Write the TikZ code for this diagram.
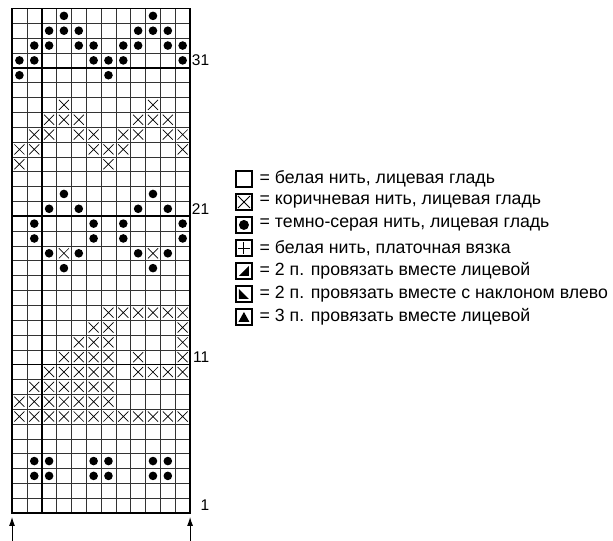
\documentclass[tikz,border=0pt]{standalone}
\usepackage{fontspec}
\setmainfont{Liberation Sans}
\usetikzlibrary{positioning,arrows.meta}

\tikzset{
  legbox/.style={draw, rectangle, line width=1.2pt, minimum size=16pt, inner sep=0pt},
  legtext/.style={anchor=west, inner sep=0pt, font=\fontsize{17.7}{20}\selectfont},
  rownum/.style={anchor=east, inner sep=0pt, font=\fontsize{15.5}{18}\selectfont},
}
\newcommand{\xcell}[2]{\draw[line width=0.7pt] (#2-0.84,#1-0.84) -- (#2-0.16,#1-0.16) (#2-0.84,#1-0.16) -- (#2-0.16,#1-0.84);}
\newcommand{\dcell}[2]{\fill (#2-0.5,#1-0.5) circle (0.29);}

\begin{document}
\begin{tikzpicture}[x=14.84pt, y=14.84pt, node distance=5.8pt and 7pt]
    \useasboundingbox (-0.809,-1.887) rectangle (40.50,34.57);

    % chart
    \foreach \i in {1,...,11} \draw[line width=0.5pt, black!80] (\i,0) -- (\i,34);
    \foreach \j in {1,...,33} \draw[line width=0.5pt, black!80] (0,\j) -- (12,\j);
    \draw[line width=1.8pt] (0,0) rectangle (12,34);
    \draw[line width=1.8pt] (2,0) -- (2,34);
    \draw[line width=1.8pt] (0,10) -- (12,10) (0,20) -- (12,20) (0,30) -- (12,30);

    % dark grey stitches
    \foreach \r/\cols in {34/{4,10}, 33/{3,4,5,9,10,11}, 32/{2,3,5,6,8,9,11,12},
        31/{1,2,6,7,8,12}, 30/{1,7}, 22/{4,10}, 21/{3,5,9,11}, 20/{2,6,8,12},
        19/{2,6,8,12}, 18/{3,5,9,11}, 17/{4,10}, 4/{2,3,6,7,10,11}, 3/{2,3,6,7,10,11}}
        \foreach \c in \cols {\dcell{\r}{\c}}

    % brown stitches
    \foreach \r/\cols in {28/{4,10}, 27/{3,4,5,9,10,11}, 26/{2,3,5,6,8,9,11,12},
        25/{1,2,6,7,8,12}, 24/{1,7}, 18/{4,10}, 14/{7,8,9,10,11,12}, 13/{6,7,12},
        12/{5,6,7,12}, 11/{4,5,6,7,9,12}, 10/{3,4,5,6,7,9,10,11,12},
        9/{2,3,4,5,6,7}, 8/{1,2,3,4,5,6,7}, 7/{1,2,3,4,5,6,7,8,9,10,11,12}}
        \foreach \c in \cols {\xcell{\r}{\c}}

    % row numbers
    \node[rownum] (n1) at (13.3,0.5) {1};
    \node[rownum] (n11) at (13.3,10.5) {11};
    \node[rownum] (n21) at (13.3,20.5) {21};
    \node[rownum] (n31) at (13.3,30.5) {31};

    % arrows
    \coordinate (startl) at (0,-1.887);
    \coordinate (tipl) at (0,-0.27);
    \coordinate (startr) at (12,-1.887);
    \coordinate (tipr) at (12,-0.27);
    \draw[-{Latex[length=9pt,width=6pt]}, line width=0.9pt] (startl) -- (tipl);
    \draw[-{Latex[length=9pt,width=6pt]}, line width=0.9pt] (startr) -- (tipr);

    % legend
    \node[legbox] (white) at (15.63,22.51) {};
    \node[legbox, below=of white] (brown) {};
    \node[legbox, below=of brown] (grey) {};
    \node[legbox, below=of grey] (garter) {};
    \node[legbox, below=of garter] (ktog) {};
    \node[legbox, below=of ktog] (ssk) {};
    \node[legbox, below=of ssk] (kthree) {};

    \draw[line width=0.9pt] ([shift={(-6pt,-6pt)}]brown.center) -- ([shift={(6pt,6pt)}]brown.center)
        ([shift={(-6pt,6pt)}]brown.center) -- ([shift={(6pt,-6pt)}]brown.center);
    \fill (grey.center) circle (5pt);
    \draw[line width=0.9pt] ([shift={(-6pt,0pt)}]garter.center) -- ([shift={(6pt,0pt)}]garter.center)
        ([shift={(0pt,-6pt)}]garter.center) -- ([shift={(0pt,6pt)}]garter.center);
    \fill ([shift={(-5pt,-5pt)}]ktog.center) -- ([shift={(5pt,-5pt)}]ktog.center) -- ([shift={(5pt,5pt)}]ktog.center) -- cycle;
    \fill ([shift={(-5pt,5pt)}]ssk.center) -- ([shift={(-5pt,-5pt)}]ssk.center) -- ([shift={(5pt,-5pt)}]ssk.center) -- cycle;
    \fill ([shift={(-5.5pt,-5pt)}]kthree.center) -- ([shift={(5.5pt,-5pt)}]kthree.center) -- ([shift={(0pt,5pt)}]kthree.center) -- cycle;

    \node[legtext, right=of white] (twhite) {= белая нить, лицевая гладь};
    \node[legtext, right=of brown] (tbrown) {= коричневая нить, лицевая гладь};
    \node[legtext, right=of grey] (tgrey) {= темно-серая нить, лицевая гладь};
    \node[legtext, right=of garter] (tgarter) {= белая нить, платочная вязка};
    \node[legtext, right=of ktog] (tktog) {= 2 п. провязать вместе лицевой};
    \node[legtext, right=of ssk] (tssk) {= 2 п. провязать вместе с наклоном влево};
    \node[legtext, right=of kthree] (tkthree) {= 3 п. провязать вместе лицевой};
\end{tikzpicture}
\end{document}
